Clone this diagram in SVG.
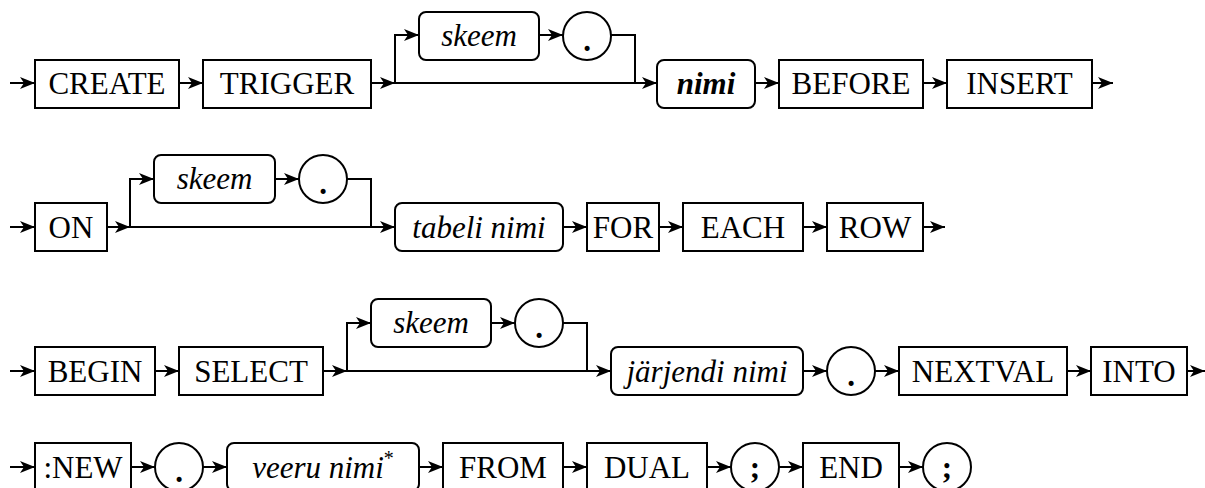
<svg xmlns="http://www.w3.org/2000/svg" width="1205" height="488" viewBox="0 0 1205 488" font-family="Liberation Serif, Times New Roman, Times, serif">
<style>
.box{fill:#fff;stroke:#000;stroke-width:2}
.ln{fill:none;stroke:#000;stroke-width:2}
text{font-family:"Liberation Serif","Times New Roman",Times,serif;font-size:31px;text-anchor:middle;fill:#000}
.i{font-style:italic}
.b{font-weight:bold}
</style>
<defs>
<marker id="ah" markerUnits="userSpaceOnUse" markerWidth="16" markerHeight="14" refX="15" refY="6" orient="auto">
<path d="M0,0 L15,6 L0,12 L4,6 Z" fill="#000"/>
</marker>
</defs>
<rect width="1205" height="488" fill="#fff"/>
<g id="connectors" class="ln" marker-end="url(#ah)">
<path d="M10,83 H35"/>
<path d="M179,83 H203"/>
<path d="M371,83 H395"/>
<path d="M395,83 V35 H419"/>
<path d="M539,35 H563"/>
<path d="M611,35 H635 V83" marker-end="none"/>
<path d="M395,83 H657"/>
<path d="M755,83 H779"/>
<path d="M923,83 H947"/>
<path d="M1092,83 H1113"/>
<path d="M10,227 H35"/>
<path d="M107,227 H130"/>
<path d="M130,227 V179 H154"/>
<path d="M275,179 H299"/>
<path d="M347,179 H371 V227" marker-end="none"/>
<path d="M130,227 H395"/>
<path d="M563,227 H587"/>
<path d="M659,227 H683"/>
<path d="M803,227 H827"/>
<path d="M923,227 H945"/>
<path d="M10,371 H35"/>
<path d="M155,371 H179"/>
<path d="M323,371 H347"/>
<path d="M347,371 V323 H371"/>
<path d="M491,323 H515"/>
<path d="M563,323 H587 V371" marker-end="none"/>
<path d="M347,371 H611"/>
<path d="M803,371 H827"/>
<path d="M875,371 H899"/>
<path d="M1067,371 H1091"/>
<path d="M1187,371 H1205"/>
<path d="M10,467 H35"/>
<path d="M131,467 H155"/>
<path d="M203,467 H227"/>
<path d="M419,467 H443"/>
<path d="M563,467 H587"/>
<path d="M707,467 H731"/>
<path d="M779,467 H803"/>
<path d="M899,467 H923"/>
</g>
<g id="create"><rect class="box" x="35" y="60" width="144" height="48"/><text x="107" y="94">CREATE</text></g>
<g id="trigger"><rect class="box" x="203" y="60" width="168" height="48"/><text x="287" y="94">TRIGGER</text></g>
<g id="skeem1"><rect class="box" x="419" y="12" width="120" height="48" rx="7"/><text class="i" x="479" y="46">skeem</text></g>
<g id="dot1"><circle class="box" cx="587" cy="36" r="24"/><text class="b" x="587" y="51">.</text></g>
<g id="nimi"><rect class="box" x="657" y="60" width="98" height="48" rx="7"/><text class="i b" x="706" y="94">nimi</text></g>
<g id="before"><rect class="box" x="779" y="60" width="144" height="48"/><text x="851" y="94">BEFORE</text></g>
<g id="insert"><rect class="box" x="947" y="60" width="145" height="48"/><text x="1019.5" y="94">INSERT</text></g>
<g id="on"><rect class="box" x="35" y="203" width="72" height="48"/><text x="71" y="238">ON</text></g>
<g id="skeem2"><rect class="box" x="154" y="155" width="121" height="48" rx="7"/><text class="i" x="214.5" y="189">skeem</text></g>
<g id="dot2"><circle class="box" cx="323" cy="179" r="24"/><text class="b" x="323" y="194">.</text></g>
<g id="tabeli"><rect class="box" x="395" y="203" width="168" height="48" rx="7"/><text class="i" x="479" y="238">tabeli nimi</text></g>
<g id="for"><rect class="box" x="587" y="203" width="72" height="48"/><text x="623" y="238">FOR</text></g>
<g id="each"><rect class="box" x="683" y="203" width="120" height="48"/><text x="743" y="238">EACH</text></g>
<g id="row"><rect class="box" x="827" y="203" width="96" height="48"/><text x="875" y="238">ROW</text></g>
<g id="begin"><rect class="box" x="35" y="347" width="120" height="48"/><text x="95" y="382">BEGIN</text></g>
<g id="select"><rect class="box" x="179" y="347" width="144" height="48"/><text x="251" y="382">SELECT</text></g>
<g id="skeem3"><rect class="box" x="371" y="299" width="120" height="48" rx="7"/><text class="i" x="431" y="333">skeem</text></g>
<g id="dot3"><circle class="box" cx="539" cy="323" r="24"/><text class="b" x="539" y="338">.</text></g>
<g id="jarjendi"><rect class="box" x="611" y="347" width="192" height="48" rx="7"/><text class="i" x="707" y="382">järjendi nimi</text></g>
<g id="dot4"><circle class="box" cx="851" cy="371" r="24"/><text class="b" x="851" y="386">.</text></g>
<g id="nextval"><rect class="box" x="899" y="347" width="168" height="48"/><text x="983" y="382">NEXTVAL</text></g>
<g id="into"><rect class="box" x="1091" y="347" width="96" height="48"/><text x="1139" y="382">INTO</text></g>
<g id="new"><rect class="box" x="35" y="443" width="96" height="48"/><text x="83" y="478">:NEW</text></g>
<g id="dot5"><circle class="box" cx="179" cy="467" r="24"/><text class="b" x="179" y="482">.</text></g>
<g id="veeru"><rect class="box" x="227" y="443" width="192" height="48" rx="7"/><text class="i" x="323" y="478">veeru nimi<tspan dy="-13" font-size="20" font-style="normal">*</tspan></text></g>
<g id="from"><rect class="box" x="443" y="443" width="120" height="48"/><text x="503" y="478">FROM</text></g>
<g id="dual"><rect class="box" x="587" y="443" width="120" height="48"/><text x="647" y="478">DUAL</text></g>
<g id="semi1"><circle class="box" cx="755" cy="467" r="24"/><text class="b" x="755" y="478">;</text></g>
<g id="end"><rect class="box" x="803" y="443" width="96" height="48"/><text x="851" y="478">END</text></g>
<g id="semi2"><circle class="box" cx="947" cy="467" r="24"/><text class="b" x="947" y="478">;</text></g>
</svg>
